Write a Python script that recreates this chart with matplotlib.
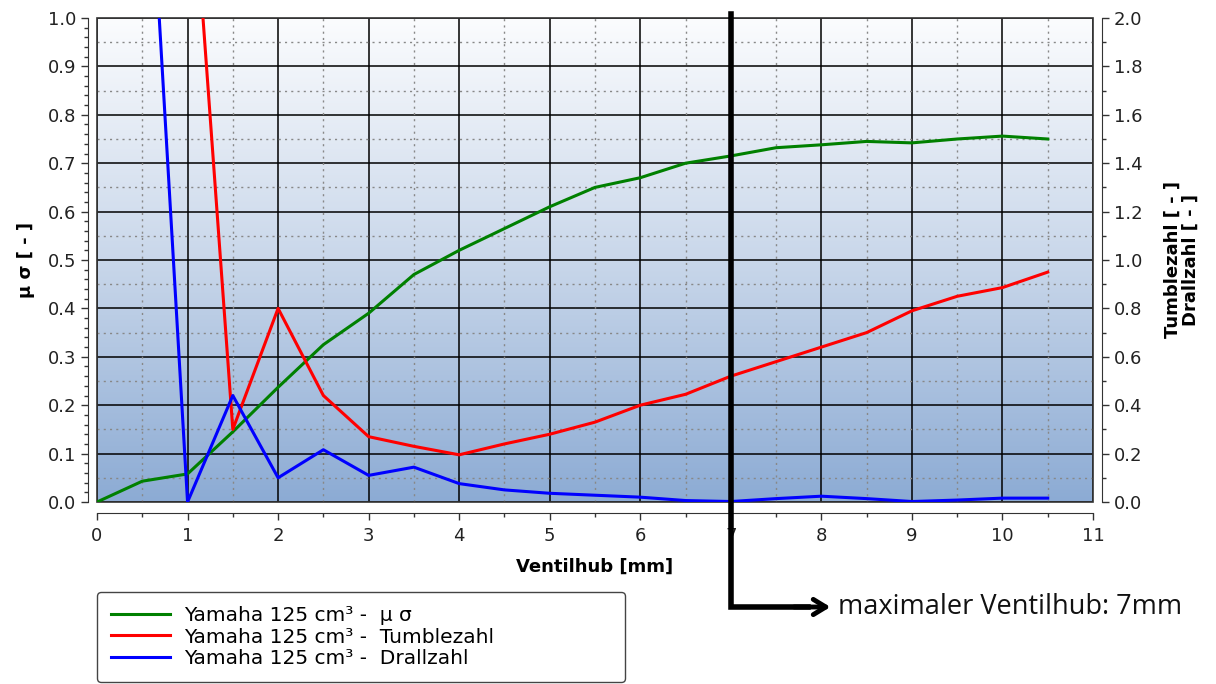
import numpy as np
import matplotlib
matplotlib.use("Agg")
import matplotlib.pyplot as plt
import matplotlib.transforms as mtransforms
from matplotlib.colors import LinearSegmentedColormap
from matplotlib.ticker import MultipleLocator
from matplotlib.patches import Rectangle

plt.rcParams['font.family'] = ['DejaVu Sans']

# Ventilhub [mm]
hub = [0, 0.5, 1.0, 1.5, 2.0, 2.5, 3.0, 3.5, 4.0, 4.5, 5.0, 5.5,
       6.0, 6.5, 7.0, 7.5, 8.0, 8.5, 9.0, 9.5, 10.0, 10.5]
# mu sigma (left axis)
mu_sigma = [0.0, 0.043, 0.058, 0.145, 0.237, 0.325, 0.39, 0.47, 0.52, 0.565, 0.61, 0.65,
            0.67, 0.70, 0.715, 0.732, 0.738, 0.745, 0.742, 0.75, 0.756, 0.75]

# Tumblezahl (right axis)
hub_tumble = hub[2:]
tumble = [2.88, 0.30, 0.80, 0.44, 0.27, 0.23, 0.195, 0.24, 0.28, 0.33,
          0.40, 0.445, 0.52, 0.58, 0.64, 0.70, 0.79, 0.85, 0.886, 0.95]

# Drallzahl (right axis)
hub_drall = hub[1:]
drall = [3.2, 0.0, 0.44, 0.10, 0.216, 0.11, 0.144, 0.076, 0.05, 0.036, 0.028,
         0.02, 0.006, 0.002, 0.014, 0.024, 0.014, 0.002, 0.008, 0.016, 0.016]

labels = ["Yamaha 125 cm³ -  μ σ", "Yamaha 125 cm³ -  Tumblezahl", "Yamaha 125 cm³ -  Drallzahl"]

fig = plt.figure(figsize=(12.16, 6.84), dpi=100)
ax = fig.add_axes([97/1216, 1-502/684, 996/1216, 484/684])
ax2 = ax.twinx()

# background gradient
cmap = LinearSegmentedColormap.from_list("bg", ["#8cabd4", "#c9d7ea", "#fbfcfe"])
grad = np.linspace(0, 1, 256).reshape(-1, 1)
ax.imshow(grad, extent=[0, 1, 0, 1], transform=ax.transAxes, aspect='auto',
          cmap=cmap, origin='lower', zorder=0)
ax.add_patch(Rectangle((0, 0), 1, 1, transform=ax.transAxes, fill=False,
                       edgecolor='#333333', lw=1.2, zorder=3, clip_on=False))

ax.set_xlim(0, 11)
ax.set_ylim(0, 1.0)
ax2.set_ylim(0, 2.0)

ax.xaxis.set_major_locator(MultipleLocator(1))
ax.xaxis.set_minor_locator(MultipleLocator(0.5))
ax.yaxis.set_major_locator(MultipleLocator(0.1))
ax.yaxis.set_minor_locator(MultipleLocator(0.02))
ax2.yaxis.set_major_locator(MultipleLocator(0.2))
ax2.yaxis.set_minor_locator(MultipleLocator(0.1))
ax.yaxis.set_major_formatter(plt.FormatStrFormatter('%.1f'))
ax2.yaxis.set_major_formatter(plt.FormatStrFormatter('%.1f'))

# grid
ax.set_axisbelow(True)
ax.grid(which='major', color='black', lw=1.1, zorder=1)
for v in np.arange(0.5, 11, 1.0):
    ax.axvline(v, color='#888888', lw=1, ls=(0, (1.5, 3)), zorder=1)
for v in np.arange(0.05, 1.0, 0.1):
    ax.axhline(v, color='#888888', lw=1, ls=(0, (1.5, 3)), zorder=1)

# spines
for s in ['top', 'right']:
    ax.spines[s].set_visible(False)
ax.spines['left'].set_position(('outward', 6.5))
ax.spines['bottom'].set_position(('outward', 8))
for s in ['top', 'left', 'bottom']:
    ax2.spines[s].set_visible(False)
ax2.spines['right'].set_position(('outward', 6.5))
for a in (ax, ax2):
    for sp in a.spines.values():
        sp.set_color('#333333')
ax.tick_params(axis='both', which='major', direction='out', length=5, width=1,
               labelsize=13, labelcolor='#222222', color='#333333')
ax.tick_params(axis='x', which='major', pad=5)
ax.tick_params(axis='both', which='minor', direction='out', length=3, width=1, color='#333333')
ax2.tick_params(axis='y', which='major', direction='out', length=5, width=1,
                labelsize=13, labelcolor='#222222', color='#333333')
ax2.tick_params(axis='y', which='minor', direction='out', length=3, width=1, color='#333333')

# data
l1, = ax.plot(hub, mu_sigma, color='#008000', lw=2.2, zorder=4)
l2, = ax2.plot(hub_tumble, tumble, color='#ff0000', lw=2.2, zorder=4)
l3, = ax2.plot(hub_drall, drall, color='#0000ff', lw=2.2, zorder=4)

ax.set_xlabel("Ventilhub [mm]", fontsize=13, fontweight='bold')
ax.xaxis.set_label_coords(0.5, -0.115)
ax.set_ylabel("μ σ [ - ]", fontsize=13, fontweight='bold')
ax.yaxis.set_label_coords(-0.062, 0.5)
ax2.set_ylabel("Tumblezahl [ - ]\nDrallzahl [ - ]", fontsize=13, fontweight='bold',
               linespacing=1.0)
ax2.yaxis.set_label_coords(1.071, 0.5)

# annotation: maximaler Ventilhub
trans = mtransforms.blended_transform_factory(ax2.transData, fig.transFigure)
y_arrow = 1 - 607/684
ax2.plot([7, 7, 7.85], [1 - 14/684, y_arrow, y_arrow], transform=trans, color='black',
         lw=4, clip_on=False, solid_joinstyle='miter', zorder=10)
ax2.annotate('', xy=(8.1, y_arrow), xycoords=trans, xytext=(7.7, y_arrow), textcoords=trans,
             arrowprops=dict(arrowstyle='->,head_length=0.9,head_width=0.55', lw=3.5,
                             color='black', shrinkA=0, shrinkB=0), zorder=10)
fig.text(838/1216, y_arrow, "maximaler Ventilhub: 7mm", ha='left', va='center',
         fontsize=19.5, family=['Open Sans', 'DejaVu Sans'], color='#111111')

leg = fig.legend([l1, l2, l3], labels, loc='upper left',
                 bbox_to_anchor=(97/1216, 0, 528/1216, 1 - 592/684), mode='expand',
                 fontsize=14.5, handlelength=2.9, handletextpad=0.7, labelspacing=0.12,
                 borderpad=0.7, borderaxespad=0, fancybox=True, framealpha=1,
                 edgecolor='#444444')
leg.get_frame().set_linewidth(1.0)

fig.savefig("out.png", dpi=100)
